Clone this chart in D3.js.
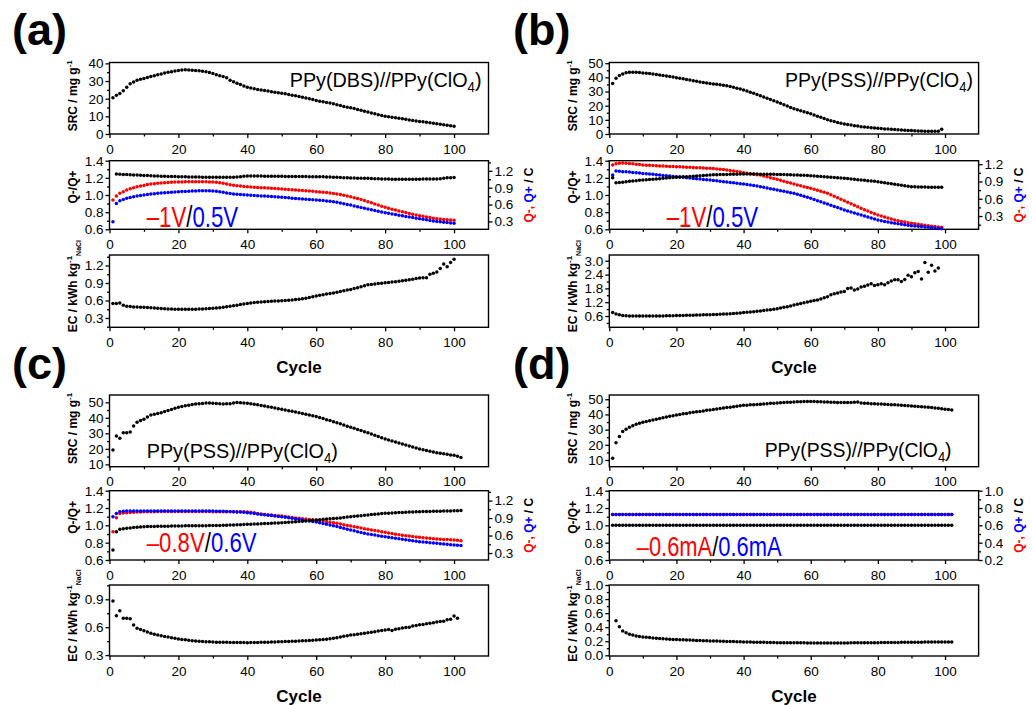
<!DOCTYPE html>
<html><head><meta charset="utf-8">
<script src="https://cdn.jsdelivr.net/npm/d3@7"></script>
<style>
body{margin:0;background:#fff;}
svg{display:block;font-family:"Liberation Sans",Arial,sans-serif;}
</style></head><body>
<svg id="c" width="1032" height="705"></svg>
<script>
// ================= DATA =================
const xTickLabels = [0, 20, 40, 60, 80, 100];
const panelLabels = ["(a)", "(b)", "(c)", "(d)"];
const materialLabels = ["PPy(DBS)//PPy(ClO", "PPy(PSS)//PPy(ClO", "PPy(PSS)//PPy(ClO", "PPy(PSS)//PPy(ClO"];
const conditionNeg = ["\u20131V", "\u20131V", "\u20130.8V", "\u20130.6mA"];
const conditionPos = ["0.5V", "0.5V", "0.6V", "0.6mA"];

// (a) PPy(DBS)//PPy(ClO4), -1V/0.5V
const a_src = [20.5,22,23,24.5,26.5,28.5,29.5,30.5,31,31.5,
32,32.5,33,33.5,34,34.5,35,35.3,35.7,36,
36.2,36.4,36.3,36.1,35.9,35.8,35.6,35.3,34.8,34.3,
33.6,33,32.6,31.8,30.5,29.6,28.8,28,27.2,26.5,
26,25.6,25.2,24.9,24.6,24.3,24,23.7,23.4,23.1,
22.8,22.4,22,21.6,21.2,20.8,20.4,20,19.5,19,
18.5,18.2,17.9,17.5,17.1,16.6,16.1,15.6,15.2,14.8,
14.4,13.9,13.4,12.9,12.4,11.9,11.4,10.9,10.5,10.1,
9.8,9.5,9.2,8.9,8.6,8.3,8,7.7,7.4,7.1,
6.9,6.7,6.4,6.1,5.8,5.5,5.2,4.9,4.7,4.4];
const a_qneg = [0.68,0.75,0.80,0.83,0.86,0.88,0.90,0.915,0.93,0.94,
0.955,0.965,0.972,0.978,0.984,0.99,0.994,0.997,1.0,1.0,
1.003,1.005,1.006,1.007,1.007,1.007,1.006,1.005,1.003,1.0,
0.995,0.99,0.98,0.965,0.952,0.942,0.935,0.928,0.922,0.917,
0.913,0.909,0.905,0.901,0.897,0.893,0.889,0.885,0.88,0.876,
0.872,0.867,0.863,0.858,0.853,0.849,0.844,0.84,0.835,0.83,
0.825,0.819,0.813,0.806,0.798,0.788,0.777,0.765,0.752,0.74,
0.723,0.706,0.688,0.67,0.65,0.63,0.61,0.59,0.57,0.55,
0.534,0.518,0.502,0.487,0.472,0.457,0.443,0.428,0.414,0.40,
0.39,0.38,0.37,0.358,0.348,0.341,0.335,0.33,0.325,0.32];
const a_qpos = [0.295,0.62,0.668,0.69,0.71,0.725,0.74,0.752,0.762,0.77,
0.779,0.787,0.793,0.799,0.805,0.81,0.815,0.82,0.824,0.828,
0.831,0.834,0.837,0.84,0.842,0.844,0.845,0.846,0.845,0.842,
0.836,0.828,0.818,0.806,0.796,0.787,0.782,0.778,0.774,0.77,
0.766,0.762,0.758,0.754,0.75,0.746,0.742,0.738,0.733,0.729,
0.724,0.719,0.714,0.709,0.704,0.699,0.694,0.689,0.685,0.68,
0.675,0.67,0.664,0.657,0.65,0.64,0.628,0.616,0.603,0.59,
0.576,0.562,0.548,0.534,0.52,0.507,0.494,0.481,0.468,0.455,
0.444,0.433,0.422,0.411,0.40,0.389,0.379,0.368,0.358,0.348,
0.338,0.328,0.318,0.309,0.30,0.293,0.286,0.279,0.272,0.266];
const a_ratio = [1.245,1.243,1.24,1.238,1.236,1.234,1.232,1.23,1.228,
1.226,1.224,1.222,1.221,1.22,1.218,1.217,1.216,1.215,1.214,
1.213,1.212,1.211,1.21,1.21,1.209,1.208,1.208,1.207,1.207,
1.206,1.206,1.206,1.206,1.207,1.208,1.211,1.214,1.218,1.221,
1.222,1.222,1.221,1.221,1.22,1.22,1.219,1.219,1.218,1.218,
1.217,1.217,1.216,1.216,1.215,1.215,1.215,1.214,1.214,1.214,
1.213,1.212,1.211,1.21,1.208,1.206,1.204,1.202,1.2,1.198,
1.197,1.196,1.195,1.194,1.194,1.192,1.19,1.189,1.188,1.187,
1.186,1.185,1.184,1.183,1.183,1.184,1.184,1.185,1.185,1.185,
1.186,1.186,1.186,1.186,1.187,1.19,1.195,1.2,1.202,1.203];
const a_ec = [0.55,0.55,0.555,0.52,0.50,0.495,0.49,0.488,0.485,0.482,
0.478,0.475,0.47,0.466,0.462,0.458,0.455,0.452,0.45,0.449,
0.448,0.448,0.448,0.449,0.45,0.452,0.455,0.458,0.461,0.465,
0.47,0.477,0.484,0.491,0.50,0.51,0.52,0.53,0.54,0.55,
0.558,0.565,0.571,0.576,0.58,0.583,0.586,0.589,0.592,0.595,
0.6,0.605,0.61,0.615,0.62,0.63,0.64,0.65,0.663,0.677,
0.69,0.70,0.71,0.72,0.73,0.742,0.755,0.767,0.778,0.79,
0.805,0.82,0.836,0.852,0.87,0.876,0.883,0.89,0.897,0.905,
0.91,0.916,0.923,0.93,0.94,0.948,0.957,0.966,0.975,0.985,
0.99,0.99,1.05,1.065,1.09,1.15,1.226,1.18,1.25,1.306];

// (b) PPy(PSS)//PPy(ClO4), -1V/0.5V
const b_src = [35.7,39.3,41.4,42.4,43.2,43.6,43.7,43.6,43.4,43.1,
42.9,42.7,42.4,42.1,41.7,41.3,40.9,40.6,40.2,39.8,
39.4,39,38.5,38.1,37.6,37.2,36.8,36.4,36,35.7,
35.4,35.1,34.7,34.4,34,33.5,33,32.4,31.7,31,
30.3,29.5,28.7,27.9,27,26.1,25.2,24.3,23.5,22.6,
21.7,20.7,19.8,18.8,17.9,17.2,16.5,15.8,15,14.3,
13.4,12.6,11.8,10.9,10,9.4,8.8,8.2,7.6,7.1,
6.7,6.3,5.9,5.6,5.2,5,4.7,4.5,4.2,4,
3.8,3.6,3.5,3.3,3.1,3,2.8,2.7,2.5,2.4,
2.3,2.2,2.1,2,1.9,1.9,1.9,1.9,3.4];
const b_qneg = [1.185,1.205,1.215,1.218,1.215,1.21,1.205,1.198,1.192,1.185,
1.182,1.179,1.176,1.173,1.17,1.167,1.164,1.161,1.158,1.156,
1.153,1.15,1.147,1.145,1.142,1.139,1.136,1.133,1.131,1.128,
1.123,1.118,1.112,1.106,1.10,1.091,1.081,1.071,1.062,1.052,
1.044,1.035,1.027,1.018,1.01,0.995,0.98,0.966,0.952,0.937,
0.921,0.904,0.888,0.871,0.855,0.84,0.825,0.81,0.795,0.78,
0.763,0.746,0.729,0.712,0.694,0.669,0.643,0.617,0.592,0.566,
0.54,0.513,0.487,0.46,0.434,0.41,0.387,0.363,0.34,0.317,
0.3,0.282,0.265,0.247,0.23,0.219,0.207,0.196,0.184,0.173,
0.165,0.157,0.149,0.14,0.132,0.125,0.118,0.111,0.104];
const b_qpos = [1.01,1.08,1.075,1.07,1.067,1.062,1.057,1.052,1.046,1.04,
1.034,1.028,1.023,1.017,1.011,1.005,0.999,0.994,0.988,0.982,
0.976,0.971,0.965,0.959,0.953,0.948,0.942,0.936,0.93,0.925,
0.918,0.911,0.904,0.897,0.89,0.883,0.876,0.869,0.862,0.855,
0.846,0.837,0.828,0.819,0.81,0.798,0.787,0.775,0.764,0.752,
0.74,0.729,0.717,0.706,0.694,0.677,0.659,0.642,0.624,0.607,
0.587,0.567,0.548,0.528,0.508,0.487,0.466,0.446,0.425,0.404,
0.387,0.369,0.352,0.334,0.317,0.3,0.282,0.265,0.247,0.23,
0.219,0.207,0.196,0.184,0.173,0.165,0.157,0.148,0.14,0.132,
0.128,0.125,0.118,0.111,0.104,0.098,0.092,0.086,0.08];
const b_ratio = [1.20,1.143,1.146,1.15,1.155,1.159,1.163,1.167,1.171,1.175,
1.178,1.181,1.184,1.187,1.19,1.194,1.197,1.2,1.203,1.206,
1.209,1.212,1.214,1.217,1.22,1.222,1.225,1.228,1.23,1.233,
1.235,1.236,1.238,1.239,1.24,1.241,1.242,1.243,1.244,1.245,
1.245,1.245,1.244,1.244,1.243,1.243,1.242,1.241,1.241,1.24,
1.239,1.238,1.236,1.235,1.234,1.232,1.23,1.229,1.227,1.225,
1.222,1.219,1.216,1.213,1.21,1.207,1.204,1.201,1.198,1.195,
1.191,1.187,1.183,1.179,1.175,1.171,1.167,1.163,1.159,1.155,
1.149,1.143,1.137,1.131,1.125,1.119,1.113,1.107,1.102,1.097,
1.095,1.094,1.093,1.092,1.091,1.09,1.09,1.09,1.09];
const b_ec = [0.75,0.69,0.65,0.625,0.61,0.605,0.6,0.6,0.6,0.6,
0.6,0.6,0.6,0.602,0.604,0.606,0.608,0.61,0.615,0.62,
0.623,0.626,0.63,0.634,0.638,0.642,0.646,0.65,0.655,0.66,
0.665,0.67,0.676,0.683,0.69,0.7,0.71,0.722,0.735,0.748,
0.76,0.774,0.788,0.804,0.82,0.838,0.856,0.876,0.897,0.92,
0.948,0.976,1.005,1.04,1.08,1.11,1.14,1.175,1.21,1.24,
1.27,1.3,1.34,1.39,1.44,1.52,1.57,1.6,1.64,1.66,
1.8,1.82,1.73,1.77,1.86,1.89,1.95,2.0,1.93,1.96,
2.0,1.96,2.04,2.12,2.18,2.17,2.1,2.19,2.37,2.3,
2.48,2.53,2.21,2.92,2.5,2.8,2.55,2.68];

// (c) PPy(PSS)//PPy(ClO4), -0.8V/0.6V
const c_src = [19.2,28.3,26.8,30.4,30.4,30.9,34.7,37.1,38.2,39,
40.5,41.8,42.3,42.8,43.3,44,44.7,45.4,46.1,46.8,
47.3,47.7,48.1,48.5,48.9,49.1,49.3,49.6,49.5,49.4,
49.2,49.1,48.9,49,49.1,49.5,49.8,49.7,49.6,49.4,
49.1,48.8,48.4,48,47.6,47.2,46.8,46.3,45.9,45.5,
45.1,44.6,44.2,43.7,43.3,42.8,42.3,41.8,41.3,40.8,
40.2,39.5,38.8,38.2,37.5,36.8,36.1,35.3,34.6,33.9,
33.2,32.5,31.8,31.1,30.4,29.6,28.8,27.9,27.1,26.3,
25.7,25,24.4,23.7,23.1,22.5,21.8,21.2,20.5,19.9,
19.4,18.9,18.5,18,17.5,17.2,16.8,16.5,16.1,15.8,
15.2,14.5];
const c_qneg = [0.665,0.906,0.98,0.988,0.992,0.996,1.0,1.003,1.006,1.008,
1.009,1.01,1.01,1.011,1.011,1.011,1.012,1.012,1.012,1.012,
1.012,1.012,1.012,1.012,1.011,1.011,1.011,1.011,1.011,1.01,
1.01,1.01,1.01,1.01,1.01,1.009,1.009,1.008,1.007,1.005,
0.998,0.99,0.98,0.97,0.963,0.957,0.951,0.946,0.94,0.935,
0.927,0.919,0.911,0.903,0.895,0.889,0.883,0.877,0.872,0.866,
0.857,0.848,0.838,0.829,0.82,0.809,0.797,0.786,0.774,0.763,
0.752,0.741,0.729,0.718,0.707,0.697,0.686,0.676,0.665,0.655,
0.645,0.635,0.624,0.614,0.604,0.597,0.59,0.584,0.577,0.57,
0.564,0.558,0.552,0.546,0.54,0.537,0.533,0.53,0.526,0.523,
0.517,0.51];
const c_qpos = [0.923,0.98,1.01,1.018,1.021,1.022,1.022,1.023,1.023,1.023,
1.023,1.023,1.023,1.023,1.023,1.023,1.023,1.023,1.023,1.023,
1.023,1.022,1.022,1.022,1.022,1.021,1.021,1.021,1.02,1.02,
1.019,1.018,1.016,1.014,1.012,1.009,1.006,1.003,0.998,0.992,
0.987,0.98,0.972,0.963,0.955,0.949,0.942,0.936,0.929,0.923,
0.914,0.905,0.896,0.887,0.878,0.869,0.859,0.85,0.841,0.832,
0.82,0.807,0.795,0.782,0.77,0.755,0.74,0.725,0.71,0.695,
0.681,0.667,0.654,0.64,0.626,0.617,0.608,0.598,0.589,0.58,
0.571,0.562,0.553,0.544,0.535,0.527,0.519,0.51,0.502,0.494,
0.488,0.483,0.477,0.472,0.466,0.46,0.454,0.449,0.443,0.437,
0.434,0.43];
const c_ratio = [0.715,0.927,0.954,0.96,0.966,0.97,0.974,0.978,0.982,0.985,
0.986,0.987,0.988,0.989,0.99,0.99,0.991,0.992,0.992,0.993,
0.993,0.994,0.994,0.995,0.995,0.995,0.996,0.996,0.997,0.997,
0.998,0.999,1.0,1.002,1.003,1.005,1.007,1.008,1.01,1.012,
1.014,1.015,1.017,1.019,1.021,1.022,1.024,1.026,1.028,1.03,
1.033,1.036,1.039,1.042,1.045,1.048,1.051,1.055,1.058,1.062,
1.066,1.069,1.072,1.076,1.079,1.083,1.086,1.09,1.095,1.1,
1.104,1.108,1.112,1.116,1.12,1.124,1.128,1.132,1.136,1.139,
1.141,1.143,1.145,1.147,1.149,1.151,1.153,1.155,1.157,1.158,
1.159,1.16,1.161,1.162,1.163,1.164,1.165,1.166,1.167,1.169,
1.169,1.17];
const c_ec = [0.882,0.724,0.777,0.695,0.695,0.69,0.623,0.588,0.575,0.562,
0.548,0.534,0.525,0.516,0.508,0.501,0.494,0.487,0.48,0.473,
0.468,0.464,0.46,0.455,0.451,0.449,0.447,0.444,0.442,0.44,
0.439,0.438,0.438,0.437,0.436,0.435,0.435,0.434,0.434,0.433,
0.434,0.435,0.436,0.437,0.438,0.439,0.44,0.441,0.443,0.444,
0.445,0.447,0.448,0.45,0.451,0.453,0.455,0.457,0.46,0.462,
0.465,0.468,0.471,0.475,0.48,0.487,0.494,0.502,0.509,0.516,
0.52,0.525,0.53,0.535,0.54,0.546,0.552,0.558,0.564,0.57,
0.575,0.565,0.578,0.584,0.59,0.597,0.6,0.613,0.617,0.625,
0.63,0.636,0.642,0.648,0.655,0.66,0.665,0.68,0.685,0.72,
0.695];

// (d) PPy(PSS)//PPy(ClO4), -0.6mA/0.6mA
const d_src = [11.1,21.4,25.4,28.7,30.2,31.5,32.6,33.5,34.2,34.8,
35.4,35.9,36.4,36.9,37.3,37.8,38.3,38.8,39.2,39.7,
40,40.4,40.7,41.1,41.4,41.7,42,42.3,42.7,43,
43.3,43.6,43.9,44.2,44.5,44.8,45.1,45.4,45.7,46,
46.1,46.3,46.4,46.6,46.7,46.9,47.1,47.3,47.4,47.6,
47.7,47.8,48,48.1,48.2,48.3,48.4,48.5,48.6,48.6,
48.5,48.4,48.3,48.2,48.2,48.1,48,47.9,47.9,47.8,
47.8,47.9,48,48.2,47.6,47.4,47.3,47.1,47,46.9,
46.8,46.7,46.5,46.4,46.3,46.2,46,45.9,45.8,45.6,
45.4,45.3,45.1,44.9,44.7,44.5,44.2,44,43.7,43.4,
43.2,43];
const d_qneg = [0.725,0.725,0.725,0.725,0.725,0.725,0.725,0.725,0.725,0.725,
0.725,0.725,0.725,0.725,0.725,0.725,0.725,0.725,0.725,0.725,
0.725,0.725,0.725,0.725,0.725,0.725,0.725,0.725,0.725,0.725,
0.725,0.725,0.725,0.725,0.725,0.725,0.725,0.725,0.725,0.725,
0.725,0.725,0.725,0.725,0.725,0.725,0.725,0.725,0.725,0.725,
0.725,0.725,0.725,0.725,0.725,0.725,0.725,0.725,0.725,0.725,
0.725,0.725,0.725,0.725,0.725,0.725,0.725,0.725,0.725,0.725,
0.725,0.725,0.725,0.725,0.725,0.725,0.725,0.725,0.725,0.725,
0.725,0.725,0.725,0.725,0.725,0.725,0.725,0.725,0.725,0.725,
0.725,0.725,0.725,0.725,0.725,0.725,0.725,0.725,0.725,0.725,
0.725,0.725];
const d_qpos = [0.725,0.725,0.725,0.725,0.725,0.725,0.725,0.725,0.725,0.725,
0.725,0.725,0.725,0.725,0.725,0.725,0.725,0.725,0.725,0.725,
0.725,0.725,0.725,0.725,0.725,0.725,0.725,0.725,0.725,0.725,
0.725,0.725,0.725,0.725,0.725,0.725,0.725,0.725,0.725,0.725,
0.725,0.725,0.725,0.725,0.725,0.725,0.725,0.725,0.725,0.725,
0.725,0.725,0.725,0.725,0.725,0.725,0.725,0.725,0.725,0.725,
0.725,0.725,0.725,0.725,0.725,0.725,0.725,0.725,0.725,0.725,
0.725,0.725,0.725,0.725,0.725,0.725,0.725,0.725,0.725,0.725,
0.725,0.725,0.725,0.725,0.725,0.725,0.725,0.725,0.725,0.725,
0.725,0.725,0.725,0.725,0.725,0.725,0.725,0.725,0.725,0.725,
0.725,0.725];
const d_ratio = [1,1,1,1,1,1,1,1,1,1,
1,1,1,1,1,1,1,1,1,1,
1,1,1,1,1,1,1,1,1,1,
1,1,1,1,1,1,1,1,1,1,
1,1,1,1,1,1,1,1,1,1,
1,1,1,1,1,1,1,1,1,1,
1,1,1,1,1,1,1,1,1,1,
1,1,1,1,1,1,1,1,1,1,
1,1,1,1,1,1,1,1,1,1,
1,1,1,1,1,1,1,1,1,1,
1,1];
const d_ec = [0.49,0.405,0.347,0.32,0.30,0.287,0.276,0.268,0.262,
0.257,0.252,0.247,0.242,0.238,0.235,0.232,0.229,0.226,0.224,
0.222,0.22,0.218,0.216,0.214,0.212,0.21,0.208,0.207,0.205,
0.204,0.202,0.201,0.199,0.198,0.196,0.195,0.193,0.192,0.19,
0.189,0.188,0.187,0.186,0.185,0.184,0.183,0.182,0.181,0.18,
0.18,0.179,0.179,0.178,0.178,0.177,0.177,0.177,0.176,0.176,
0.176,0.176,0.176,0.176,0.176,0.176,0.176,0.176,0.176,0.176,
0.176,0.177,0.177,0.177,0.178,0.178,0.178,0.179,0.179,0.18,
0.181,0.181,0.182,0.182,0.183,0.183,0.184,0.185,0.185,0.186,
0.186,0.187,0.187,0.188,0.188,0.188,0.189,0.189,0.19,0.19,
0.19,0.19];

// ================= LAYOUT / DRAWING =================
const svg = d3.select("#c");
svg.append("rect").attr("width",1032).attr("height",705).attr("fill","#fff");

const RED = "#ff0000", BLUE = "#0000ff", BLACK = "#000000";
const colX = [[109.5, 488.5], [609.3, 978.6]];
const rowY = [
  {src:[62.5,134], q:[160.7,229.3], ec:[255,327.3]},
  {src:[395,466.7], q:[490.7,560], ec:[585,656]}
];

const panels = [
  {col:0,row:0, src:[a_src,1], qn:[a_qneg,1], qp:[a_qpos,1], ra:[a_ratio,2], ec:[a_ec,1],
   srcDom:[0,40.5], srcTicks:[0,10,20,30,40], srcMinor:5,
   qrDom:[0.16,1.38], qrTicks:[0.3,0.6,0.9,1.2], qrMinor:0.15,
   ecDom:[0.14,1.38], ecTicks:[0.3,0.6,0.9,1.2], ecMinor:0.15,
   mat:{x:481.7,y:87,w:192, anchorEnd:true}, cond:{x:146.7,y:227,w:91.5,fs:30}},
  {col:1,row:0, src:[b_src,1], qn:[b_qneg,1], qp:[b_qpos,1], ra:[b_ratio,1], ec:[b_ec,1],
   srcDom:[0,50.5], srcTicks:[0,10,20,30,40,50], srcMinor:5,
   qrDom:[0.07,1.26], qrTicks:[0.3,0.6,0.9,1.2], qrMinor:0.15,
   ecDom:[0.11,3.25], ecTicks:[0.6,1.2,1.8,2.4,3.0], ecMinor:0.3,
   mat:{x:973,y:87,w:188, anchorEnd:true}, cond:{x:666.7,y:227,w:91.5,fs:30}},
  {col:0,row:1, src:[c_src,1], qn:[c_qneg,1], qp:[c_qpos,1], ra:[c_ratio,1], ec:[c_ec,1],
   srcDom:[8.5,54.7], srcTicks:[10,20,30,40,50], srcMinor:5,
   qrDom:[0.18,1.37], qrTicks:[0.3,0.6,0.9,1.2], qrMinor:0.15,
   ecDom:[0.29,1.054], ecTicks:[0.3,0.6,0.9], ecMinor:0.15,
   mat:{x:146.7,y:458,w:191.3, anchorEnd:false}, cond:{x:146.7,y:552,w:110,fs:27}},
  {col:1,row:1, src:[d_src,1], qn:[d_qneg,1], qp:[d_qpos,1], ra:[d_ratio,1], ec:[d_ec,2],
   srcDom:[5.6,52.8], srcTicks:[10,20,30,40,50], srcMinor:5,
   qrDom:[0.2,1.0], qrTicks:[0.2,0.4,0.6,0.8,1.0], qrMinor:0.1,
   ecDom:[-0.01,1.0], ecTicks:[0,0.2,0.4,0.6,0.8,1.0], ecMinor:0.1,
   mat:{x:951.7,y:457,w:187, anchorEnd:true}, cond:{x:636.7,y:556,w:145,fs:27}}
];

const TICKFS = 13.5;

function minorVals(dom, step, majors) {
  const lo = Math.min(dom[0],dom[1]), hi = Math.max(dom[0],dom[1]);
  const start = Math.ceil((lo-1e-9)/step)*step;
  const out = [];
  for (let v = start; v <= hi+1e-9; v += step) {
    const r = Math.round(v*1000)/1000;
    if (!majors.some(m => Math.abs(m-r) < 1e-6)) out.push(r);
  }
  return out;
}

function styleAxis(g) {
  g.select(".domain").remove();
  g.selectAll(".tick line").attr("stroke","#000").attr("stroke-width",1.3);
  g.selectAll("text").attr("font-family","'Liberation Sans', Arial, sans-serif").attr("font-size",TICKFS).attr("fill","#000");
}

function drawSubplot(x, y, opts) {
  const [x0,x1] = x.range(), [yb,yt] = y.range();
  // x axis bottom
  const gx = svg.append("g").attr("transform",`translate(0,${yb})`);
  gx.call(d3.axisBottom(x).tickValues(xTickLabels).tickSize(4).tickPadding(6).tickFormat(d3.format("d")));
  styleAxis(gx);
  const gxm = svg.append("g").attr("transform",`translate(0,${yb})`);
  gxm.call(d3.axisBottom(x).tickValues([10,30,50,70,90,110].filter(v=>v<110)).tickSize(2.5).tickFormat(""));
  styleAxis(gxm);
  // y left
  const gy = svg.append("g").attr("transform",`translate(${x0},0)`);
  gy.call(d3.axisLeft(y).tickValues(opts.ticks).tickSize(4).tickPadding(2).tickFormat(opts.fmt));
  styleAxis(gy);
  const gym = svg.append("g").attr("transform",`translate(${x0},0)`);
  gym.call(d3.axisLeft(y).tickValues(minorVals(y.domain(), opts.minor, opts.ticks)).tickSize(2.5).tickFormat(""));
  styleAxis(gym);
  // frame
  svg.append("rect").attr("x",x0).attr("y",yt).attr("width",x1-x0).attr("height",yb-yt)
    .attr("fill","none").attr("stroke","#000").attr("stroke-width",1.4);
}

function drawPoints(x, y, series, color) {
  const [vals, start] = series;
  svg.append("g").selectAll("circle").data(vals).join("circle")
    .attr("cx",(d,i)=>x(start+i)).attr("cy",d=>y(d)).attr("r",1.75).attr("fill",color);
}

function yTitle(cx, cy, parts, rot) {
  const t = svg.append("text").attr("transform",`translate(${cx},${cy}) rotate(${rot})`)
    .attr("text-anchor","middle").attr("font-weight","bold").attr("font-size",12)
    .attr("font-family","'Liberation Sans', Arial, sans-serif");
  parts.forEach(p => {
    const s = t.append("tspan").text(p.t).attr("fill",p.c||"#000");
    if (p.fs) s.attr("font-size",p.fs);
    if (p.dy) s.attr("dy",p.dy);
  });
  return t;
}

function fitText(x, y, parts, fs, width, anchorEnd) {
  const t = svg.append("text").attr("font-size",fs).attr("font-family","'Liberation Sans', Arial, sans-serif");
  parts.forEach(p => {
    const s = t.append("tspan").text(p.t).attr("fill",p.c||"#000");
    if (p.fs) s.attr("font-size",p.fs);
    if (p.dy) s.attr("dy",p.dy);
  });
  const w = t.node().getComputedTextLength();
  const sx = width / w;
  const tx = anchorEnd ? x - width : x;
  t.attr("transform",`translate(${tx},${y}) scale(${sx},1)`);
}

panels.forEach((p, idx) => {
  const xr = colX[p.col], ry = rowY[p.row];
  const x = d3.scaleLinear().domain([0,110]).range(xr);
  const ySrc = d3.scaleLinear().domain(p.srcDom).range([ry.src[1], ry.src[0]]);
  const yQl = d3.scaleLinear().domain([0.6,1.4]).range([ry.q[1], ry.q[0]]);
  const yQr = d3.scaleLinear().domain(p.qrDom).range([ry.q[1], ry.q[0]]);
  const yEc = d3.scaleLinear().domain(p.ecDom).range([ry.ec[1], ry.ec[0]]);

  drawSubplot(x, ySrc, {ticks:p.srcTicks, minor:p.srcMinor, fmt:d3.format("d")});
  drawSubplot(x, yQl, {ticks:[0.6,0.8,1.0,1.2,1.4], minor:0.1, fmt:d3.format(".1f")});
  drawSubplot(x, yEc, {ticks:p.ecTicks, minor:p.ecMinor, fmt:d3.format(".1f")});

  // right axis of Q plot
  const gr = svg.append("g").attr("transform",`translate(${xr[1]},0)`);
  gr.call(d3.axisRight(yQr).tickValues(p.qrTicks).tickSize(4).tickPadding(2).tickFormat(d3.format(".1f")));
  styleAxis(gr);
  const grm = svg.append("g").attr("transform",`translate(${xr[1]},0)`);
  grm.call(d3.axisRight(yQr).tickValues(minorVals(p.qrDom, p.qrMinor, p.qrTicks)).tickSize(2.5).tickFormat(""));
  styleAxis(grm);

  // data
  drawPoints(x, ySrc, p.src, BLACK);
  drawPoints(x, yQr, p.qn, RED);
  drawPoints(x, yQr, p.qp, BLUE);
  drawPoints(x, yQl, p.ra, BLACK);
  drawPoints(x, yEc, p.ec, BLACK);

  // titles
  const tx = xr[0] - 32.5;
  const midS = (ry.src[0]+ry.src[1])/2, midQ = (ry.q[0]+ry.q[1])/2, midE = (ry.ec[0]+ry.ec[1])/2;
  yTitle(tx, midS - 2.5, [{t:"SRC / mg g"},{t:"-1",fs:8,dy:-5}], -90);
  yTitle(tx, midQ - 8, [{t:"Q-/Q+"}], -90);
  yTitle(tx, midE - 5, [{t:"EC / kWh kg"},{t:"-1",fs:8,dy:-5},{t:"NaCl",fs:7,dy:9}], -90);
  yTitle(xr[1] + 44, midQ, [{t:"Q-,",c:RED},{t:" Q+",c:BLUE},{t:" / C"}], -90);

  // Cycle
  svg.append("text").attr("x",(xr[0]+xr[1])/2).attr("y",ry.ec[1]+46).attr("text-anchor","middle")
    .attr("font-weight","bold").attr("font-size",17).text("Cycle");

  // panel label
  svg.append("text").attr("x", p.col===0 ? 12 : 513).attr("y", p.row===0 ? 45 : 379)
    .attr("font-weight","bold").attr("font-size",45).text(panelLabels[idx]);

  // material label
  fitText(p.mat.x, p.mat.y, [{t:materialLabels[idx]},{t:"4",fs:14,dy:5},{t:")",dy:-5}], 21, p.mat.w, p.mat.anchorEnd);
  // condition label
  fitText(p.cond.x, p.cond.y, [{t:conditionNeg[idx],c:RED},{t:"/"},{t:conditionPos[idx],c:BLUE}], p.cond.fs, p.cond.w, false);
});
</script>
</body></html>
